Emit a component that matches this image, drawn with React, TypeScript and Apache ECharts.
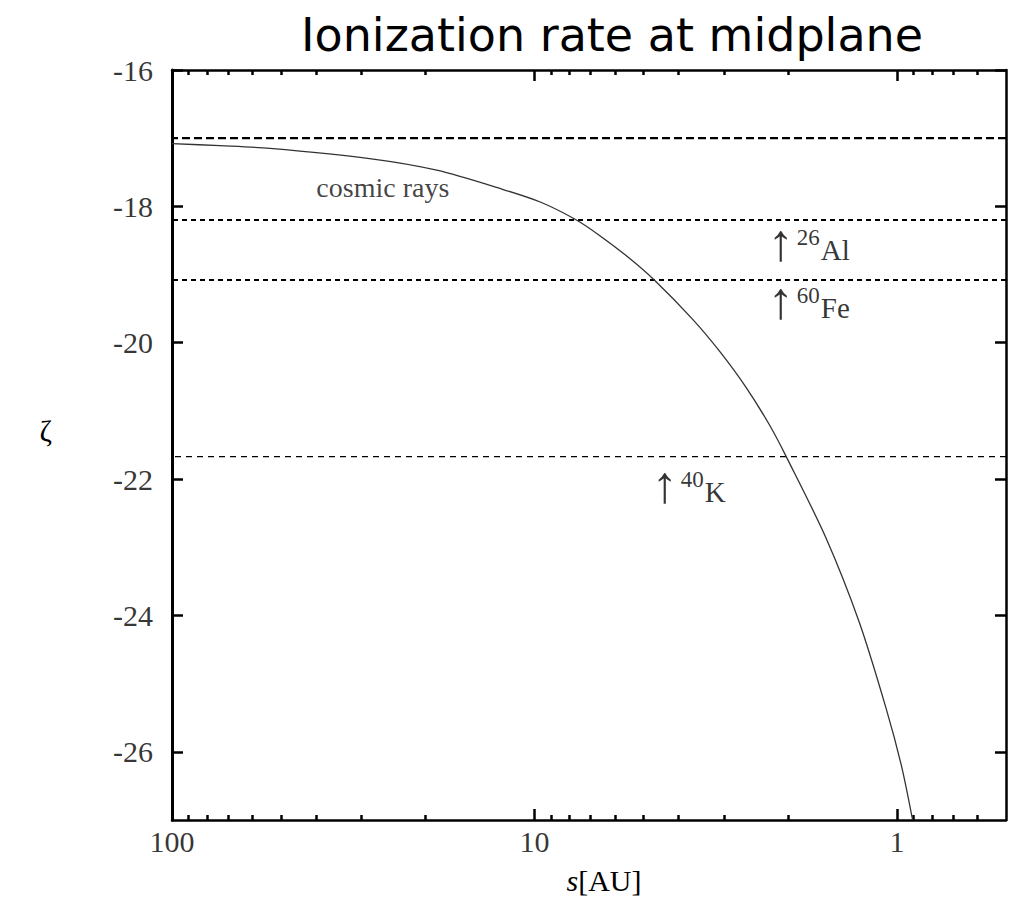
import React, { useEffect, useRef } from "react";
import * as echarts from "echarts";

// Radius s [AU] and log10 of the midplane ionization rate along the curve
const radiusAU = [100, 73.8, 53.7, 28.5, 18.6, 12.25, 9.6, 7.66, 6.6, 5.5, 4.67, 3.67, 3.09, 2.61, 2.25, 2.02, 1.57, 1.27, 1.07, 0.97, 0.905];
const logZeta = [-17.08, -17.11, -17.15, -17.3, -17.47, -17.75, -17.94, -18.2, -18.43, -18.75, -19.08, -19.65, -20.12, -20.65, -21.2, -21.67, -22.86, -24.1, -25.37, -26.22, -27.0];

// Constant ionization levels (cosmic rays and radionuclides)
const cosmicLevel = -17.0;
const al26Level = -18.2;
const fe60Level = -19.08;
const k40Level = -21.67;

// Axis ranges and tick values
const sMin = 0.5;
const sMax = 100;
const zMin = -27;
const zMax = -16;
const xMajorTicks = [1, 10, 100];
const xMinorTicks = [0.6, 0.7, 0.8, 0.9, 2, 3, 4, 5, 6, 7, 8, 9, 20, 30, 40, 50, 60, 70, 80, 90];
const yMajorTicks = [-26, -24, -22, -20, -18, -16];

// Text annotations: [s, zeta] anchor, mass number, element
const cosmicLabelPos = [26.2, -17.72];
const isotopeAnchors = [
  [2.27, -18.48],
  [2.27, -19.33],
  [4.75, -22.03],
];
const isotopeMass = ["26", "60", "40"];
const isotopeElement = ["Al", "Fe", "K"];

const SERIF = "Liberation Serif";

export default function App() {
  const ref = useRef<HTMLDivElement>(null);

  useEffect(() => {
    if (!ref.current) return;
    const chart = echarts.init(ref.current, null, { renderer: "svg" });

    const frameColor = "#000";
    const baseX = {
      type: "log",
      logBase: 10,
      min: sMin,
      max: sMax,
      inverse: true,
      splitLine: { show: false },
      minorTick: { show: false },
      axisLabel: { show: false },
    };
    const baseY = {
      type: "value",
      min: zMin,
      max: zMax,
      splitLine: { show: false },
      axisLabel: { show: false },
    };

    const curve = radiusAU.map((s, i) => [s, logZeta[i]]);
    const level = (v: number) => [
      [sMin, v],
      [sMax, v],
    ];

    const richIso = {
      arrow: { fontFamily: SERIF, fontSize: 52, color: "#000", verticalAlign: "bottom", lineHeight: 50, padding: [0, 0, -4, 0] },
      sup: { fontFamily: SERIF, fontSize: 23, color: "#000", verticalAlign: "bottom", padding: [0, 1, 15, 0], lineHeight: 50 },
      el: { fontFamily: SERIF, fontSize: 29, color: "#000", verticalAlign: "bottom", lineHeight: 50 },
    };

    const tickLabelStyle = { fontFamily: SERIF, fontSize: 30, color: "#000" };

    chart.setOption({
      animation: false,
      backgroundColor: "#fff",
      textStyle: { fontFamily: SERIF, color: "#000" },
      title: {
        text: "Ionization rate at midplane",
        left: 296,
        top: 7,
        textStyle: { fontFamily: "DejaVu Sans", fontSize: 46, fontWeight: "normal", color: "#000" },
      },
      grid: { left: 172, right: 3, top: 70, bottom: 74, containLabel: false },
      xAxis: [
        {
          ...baseX,
          position: "bottom",
          axisLine: { show: true, lineStyle: { color: frameColor, width: 2.5 } },
          axisTick: { show: true, inside: true, length: 11, lineStyle: { color: frameColor, width: 2.5 }, customValues: xMajorTicks },
          name: "{i|s}[AU]",
          nameLocation: "middle",
          nameGap: 45,
          nameTextStyle: {
            fontFamily: SERIF,
            fontSize: 30,
            color: "#000",
            padding: [0, 0, 0, 30],
            rich: { i: { fontFamily: SERIF, fontStyle: "italic", fontSize: 30, color: "#000" } },
          },
        },
        {
          ...baseX,
          position: "bottom",
          axisLine: { show: false },
          axisTick: { show: true, inside: true, length: 5, lineStyle: { color: frameColor, width: 2.5 }, customValues: xMinorTicks },
        },
        {
          ...baseX,
          position: "top",
          axisLine: { show: true, lineStyle: { color: frameColor, width: 2.5 } },
          axisTick: { show: true, inside: true, length: 11, lineStyle: { color: frameColor, width: 2.5 }, customValues: xMajorTicks },
        },
        {
          ...baseX,
          position: "top",
          axisLine: { show: false },
          axisTick: { show: true, inside: true, length: 5, lineStyle: { color: frameColor, width: 2.5 }, customValues: xMinorTicks },
        },
      ],
      yAxis: [
        {
          ...baseY,
          position: "left",
          axisLine: { show: true, lineStyle: { color: frameColor, width: 3 } },
          axisTick: { show: true, inside: true, length: 11, lineStyle: { color: frameColor, width: 2.5 }, customValues: yMajorTicks },
          name: "ζ",
          nameLocation: "middle",
          nameGap: 120,
          nameRotate: 0,
          nameTextStyle: { fontFamily: SERIF, fontSize: 30, color: "#000", verticalAlign: "bottom" },
        },
        {
          ...baseY,
          position: "right",
          axisLine: { show: true, lineStyle: { color: frameColor, width: 2.5 } },
          axisTick: { show: true, inside: true, length: 11, lineStyle: { color: frameColor, width: 2.5 }, customValues: yMajorTicks },
        },
      ],
      series: [
        {
          type: "line",
          name: "cosmic rays",
          data: curve,
          smooth: 0.3,
          showSymbol: false,
          lineStyle: { color: "#333", width: 1.3 },
          z: 5,
        },
        {
          type: "line",
          data: level(cosmicLevel),
          showSymbol: false,
          lineStyle: { color: "#000", width: 2.2, type: [8, 4] },
        },
        {
          type: "line",
          data: level(al26Level),
          showSymbol: false,
          lineStyle: { color: "#000", width: 2.2, type: [5, 4] },
        },
        {
          type: "line",
          data: level(fe60Level),
          showSymbol: false,
          lineStyle: { color: "#000", width: 2.2, type: [5, 4] },
        },
        {
          type: "line",
          data: level(k40Level),
          showSymbol: false,
          lineStyle: { color: "#000", width: 1.2, type: [6, 5] },
        },
        // x tick labels, placed at the tick values on the bottom edge
        {
          type: "scatter",
          symbolSize: 0,
          silent: true,
          clip: false,
          data: xMajorTicks.map((s) => [s, zMin]),
          label: {
            show: true,
            position: "bottom",
            distance: 6,
            formatter: (p: any) => String(p.value[0]),
            ...tickLabelStyle,
          },
        },
        // y tick labels, placed at the tick values on the left edge
        {
          type: "scatter",
          symbolSize: 0,
          silent: true,
          clip: false,
          data: yMajorTicks.map((z) => [sMax, z]),
          label: {
            show: true,
            position: "left",
            distance: 19,
            formatter: (p: any) => String(p.value[1]),
            ...tickLabelStyle,
          },
        },
        {
          type: "scatter",
          symbolSize: 0,
          silent: true,
          data: [cosmicLabelPos],
          label: {
            show: true,
            position: "inside",
            formatter: "cosmic rays",
            fontFamily: SERIF,
            fontSize: 28,
            color: "#111",
          },
          z: 6,
        },
        {
          type: "scatter",
          symbolSize: 0,
          silent: true,
          data: isotopeAnchors.map((p, i) => ({ value: p, mass: isotopeMass[i], el: isotopeElement[i] })),
          label: {
            show: true,
            position: "right",
            distance: 0,
            color: "#000",
            formatter: (p: any) => `{arrow|↑} {sup|${p.data.mass}}{el|${p.data.el}}`,
            rich: richIso,
          },
          z: 6,
        },
      ],
    });

    return () => chart.dispose();
  }, []);

  return (
    <div
      ref={ref}
      style={{ position: "absolute", left: 0, top: 0, width: 1009, height: 900, background: "#fff" }}
    />
  );
}
